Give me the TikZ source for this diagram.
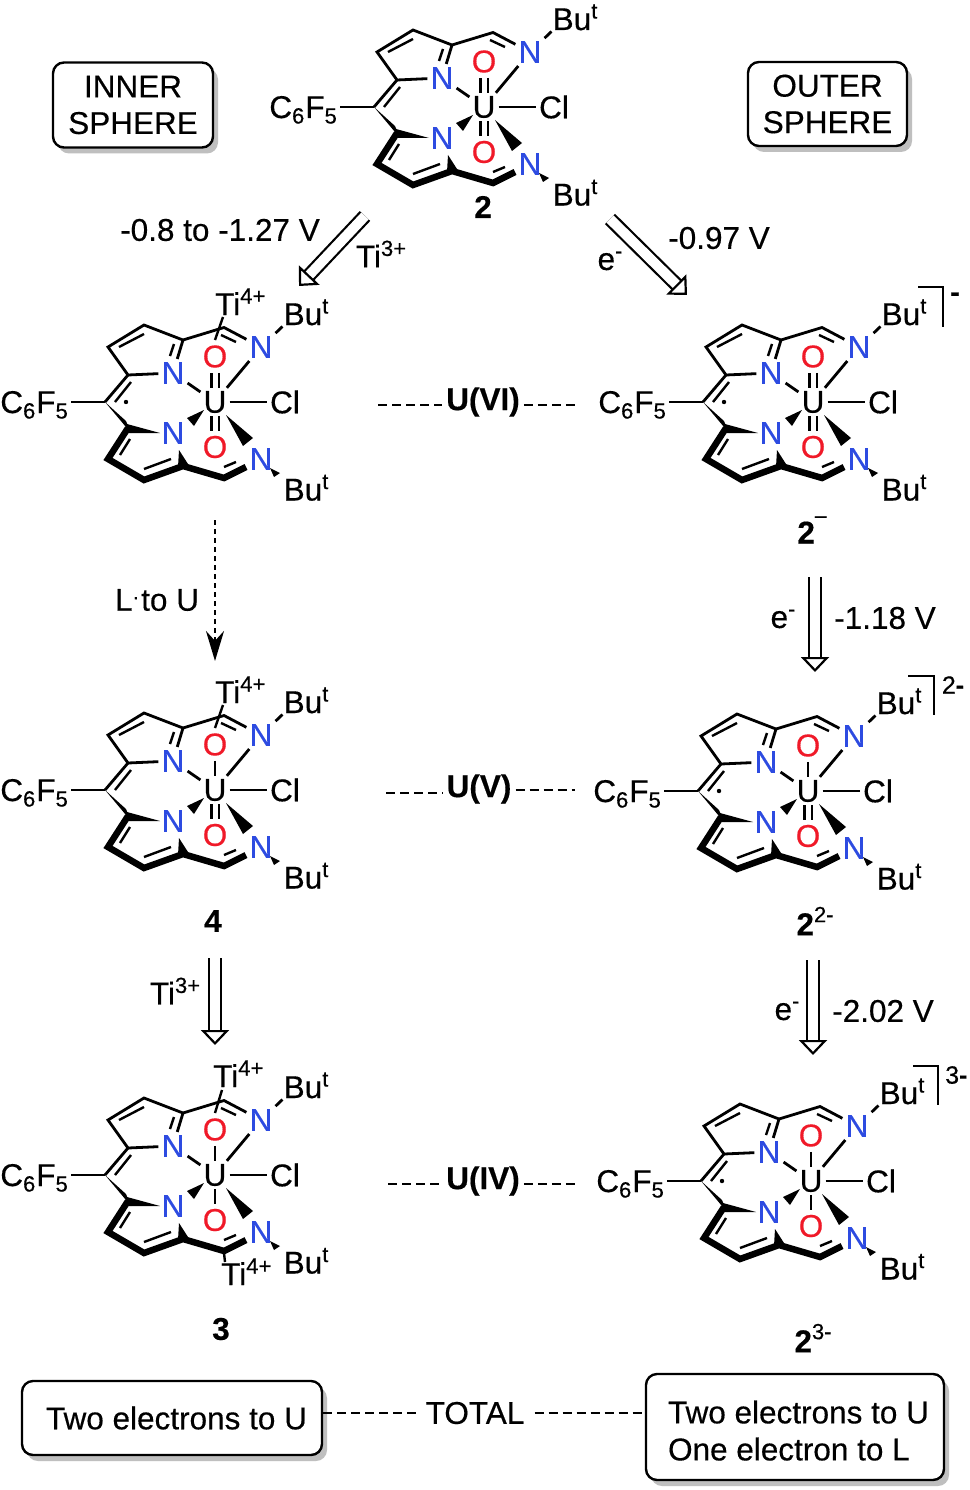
\documentclass[tikz,border=0pt]{standalone}
\usepackage{fontspec}
\setmainfont{Liberation Sans}[FakeBold=0.4]
\usetikzlibrary{arrows.meta,shadows,calc}
\definecolor{nblue}{RGB}{45,75,225}
\definecolor{ored}{RGB}{240,25,40}
\newcommand\sbs[1]{\raisebox{-5.5pt}{\fontsize{22}{22}\selectfont #1}}
\newcommand\sps[1]{\raisebox{11.5pt}{\fontsize{22}{22}\selectfont #1}}
\tikzset{
 txt/.style={inner sep=0pt,font=\fontsize{31.5}{36.5}\selectfont,align=center},
 btxt/.style={txt,font=\fontsize{31.5}{36.5}\selectfont\bfseries},
 atom/.style={inner sep=3pt,font=\fontsize{31.5}{36.5}\selectfont},
 nitro/.style={atom,text=nblue},
 oxy/.style={atom,text=ored,inner sep=5pt},
 bond/.style={line width=2.8pt,line join=miter,line cap=butt},
 thin bond/.style={line width=2.4pt},
 bold bond/.style={line width=6.5pt,line join=miter,line cap=butt},
 bondone/.style={bond},
 bondtwo/.style={line width=2.4pt,double,double distance=5pt},
 panel/.style={draw=black,fill=white,line width=2.4pt,rounded corners=11pt,inner sep=0pt,
   font=\fontsize{31.5}{36.5}\selectfont,align=center,
   drop shadow={shadow xshift=5pt,shadow yshift=-6pt,fill=black!25,opacity=1}},
 dashline/.style={line width=2.4pt,dash pattern=on 9pt off 5pt},
 openarrow/.style={line width=2.2pt,double,double distance=10pt,
   -{Triangle[fill=white,length=15pt,width=28pt,line width=2.2pt]}},
}
% #1 prefix, #2 #3 position of U, #4 #5 styles of the U=O bonds, #6 extras
\newcommand\molecule[6]{%
\begin{scope}[shift={(#2,#3)},name prefix=#1-]
 \coordinate (meso) at (-110,0);
 \coordinate (ca) at (-87,-27);
 \coordinate (cb) at (-107,-55);
 \coordinate (cc) at (-71,-77);
 \coordinate (cd) at (-32,-62);
 \coordinate (ce) at (9,-74.5);
 \coordinate (cf) at (-87,26);
 \coordinate (cg) at (-107,57);
 \coordinate (ch) at (-71,78);
 \coordinate (ci) at (-32,64);
 \coordinate (cj) at (9,76);
 \node[atom] (U) at (0,0) {U};
 \node[atom,inner sep=3pt] (Cl) at (70,0) {Cl};
 \node[nitro] (na) at (-42,-29) {N};
 \node[nitro] (nb) at (-42,31) {N};
 \node[nitro] (nc) at (46,-55) {N};
 \node[nitro] (nd) at (46,57) {N};
 \node[oxy] (oa) at (0,-45.5) {O};
 \node[oxy] (ob) at (0,45) {O};
 \node[txt,anchor=base east,inner sep=3pt] (ar) at (-144,11) {C\sbs{6}\kern1pt F\sbs{5}};
 \node[txt,anchor=base west,inner sep=1pt] (bua) at (67.5,-77) {Bu\sps{t}};
 \node[txt,anchor=base west,inner sep=1pt] (bub) at (67.5,98.5) {Bu\sps{t}};
 % thin skeleton
 \draw[bond] (meso) -- (ca) -- (cb) -- (cc) -- (cd) -- (ce) -- (nc);
 \draw[bond] (ca) -- (na);
 \draw[bond] (cd) -- (na);
 \draw[bond] (nc) -- (bua.south west);
 \draw[bond] (ar.east |- meso) -- (meso);
 \draw[bond] (na) -- (U);
 \draw[bond] (nc) -- (U);
 \draw[bond] (U) -- (Cl);
 \draw[#4] (oa) -- (U);
 \draw[#5] (ob) -- (U);
 % inner lines of the double bonds
 \draw[thin bond] (-100,0) -- (-84,-20);
 \draw[thin bond] (-96,-55) -- (-71,-68);
 \draw[thin bond] (-41,-58) -- (-45,-46);
 \draw[thin bond] (6,-67) -- (21,-60);
 \draw[thin bond] (-85,37) -- (-95,53);
 \draw[thin bond] (-71,67) -- (-44,57);
 \draw[thin bond] (9,65) -- (21,60);
 % bold front of the ligand
 \draw[bold bond] (cf) -- (cg) -- (ch) -- (ci) -- (cj) -- (31,65);
 \fill (meso) -- (-89,19) -- (-84,31) -- cycle;
 \fill (-88,22) -- (-88,31) -- (-55,31) -- cycle;
 \fill (-36,48) -- (-37,65) -- (-27,62) -- cycle;
 \fill (-11,8) -- (-28,16) -- (-21,24) -- cycle;
 \fill (11,13) -- (28,44) -- (38,36) -- cycle;
 \fill (55,66) -- (59,75) -- (65,71) -- cycle;
 #6
\end{scope}}
\newcommand\ligdot{\fill (-89,0) circle (2.2);}
\begin{document}
\begin{tikzpicture}[x=1pt,y=-1pt]
\useasboundingbox (0,0) rectangle (969,1490);
\fill[white] (0,0) rectangle (969,1490);

\node[panel,minimum width=160pt,minimum height=85pt] (inner) at (133,105) {INNER\\SPHERE};
\node[panel,minimum width=159pt,minimum height=84pt] (outer) at (827.5,104) {OUTER\\SPHERE};
\node[panel,minimum width=300pt,minimum height=74pt] (twol) at (172,1418) {\hspace*{9pt}Two electrons to U};
\node[panel,minimum width=298pt,minimum height=106pt,align=left] (twor) at (795,1427) {\rule{0pt}{30pt}\hspace*{7pt}Two electrons to U\\[.5pt]\hspace*{7pt}One electron to L};

\molecule{m}{484}{107}{bondtwo}{bondtwo}{}
\molecule{a}{215}{402}{bondtwo}{bondtwo}{\ligdot
  \node[txt,anchor=base west] (ti) at (0,-87) {Ti\sps{4+}};
  \coordinate (tt) at (8,-85); \coordinate (tb) at (0,-62);
  \draw[thin bond] (tt) -- (tb);}
\molecule{b}{813}{402}{bondtwo}{bondtwo}{\ligdot}
\molecule{c}{215}{790}{bondone}{bondtwo}{
  \node[txt,anchor=base west] (ti) at (0,-87) {Ti\sps{4+}};
  \coordinate (tt) at (8,-85); \coordinate (tb) at (0,-62);
  \draw[thin bond] (tt) -- (tb);}
\molecule{d}{808}{791}{bondone}{bondtwo}{\ligdot}
\molecule{e}{215}{1175}{bondone}{bondone}{
  \node[txt,anchor=base west] (ti) at (-2,-88) {Ti\sps{4+}};
  \coordinate (tt) at (7,-85); \coordinate (tb) at (0,-62);
  \draw[thin bond] (tt) -- (tb);
  \node[txt,anchor=base west] (tj) at (6,110) {Ti\sps{4+}};
  \coordinate (ut) at (9,78); \coordinate (ub) at (10,87);
  \draw[thin bond] (ut) -- (ub);}
\molecule{f}{811}{1181}{bondone}{bondone}{\ligdot}

% compound labels
\node[btxt] (l2) at (483,207) {2};
\node[txt] (lb) at (812,530) {\textbf{2}\raisebox{21pt}{\fontsize{21}{21}\selectfont –}};
\node[txt] (ld) at (815,921) {\textbf{2}\raisebox{13pt}{\fontsize{22}{22}\selectfont 2-}};
\node[txt] (lf) at (813,1338) {\textbf{2}\raisebox{13pt}{\fontsize{22}{22}\selectfont 3-}};
\node[btxt] (l4) at (213,921) {4};
\node[btxt] (l3) at (221,1329) {3};

% brackets and charges
\coordinate (bb1) at (918,287); \coordinate (bb2) at (943,287); \coordinate (bb3) at (943,327);
\draw[bond] (bb1) -- (bb2) -- (bb3);
\node[txt,font=\fontsize{28}{30}\selectfont\bfseries] (cb) at (955,297) {-};
\coordinate (db1) at (908,676); \coordinate (db2) at (934,676); \coordinate (db3) at (934,715);
\draw[bond] (db1) -- (db2) -- (db3);
\node[txt,font=\fontsize{25}{30}\selectfont] (cd) at (953,685) {2\textbf{-}};
\coordinate (fb1) at (913,1066); \coordinate (fb2) at (938,1066); \coordinate (fb3) at (938,1105);
\draw[bond] (fb1) -- (fb2) -- (fb3);
\node[txt,font=\fontsize{25}{30}\selectfont,anchor=west] (cf) at (945,1075) {3\textbf{-}};

% reaction labels
\node[txt] (pa) at (220,230) {-0.8 to -1.27 V};
\node[txt] (ta) at (381,254) {Ti\sps{3+}};
\node[txt] (pb) at (719,238) {-0.97 V};
\node[txt] (ea) at (610,261) {e\sps{-}};
\node[txt] (lu) at (157,600) {L\raisebox{7pt}{\fontsize{20}{20}\selectfont·}\kern2pt to U};
\node[txt] (eb) at (783,619) {e\sps{-}};
\node[txt] (pc) at (885,618) {-1.18 V};
\node[txt] (ec) at (787,1011) {e\sps{-}};
\node[txt] (pd) at (883,1011) {-2.02 V};
\node[txt] (tb) at (175,991) {Ti\sps{3+}};

% open reaction arrows
\coordinate (a1s) at (365,216); \coordinate (a1e) at (299,286);
\coordinate (a2s) at (610,219); \coordinate (a2e) at (687,295);
\coordinate (a3s) at (815,577); \coordinate (a3e) at (815,672);
\coordinate (a4s) at (813,960); \coordinate (a4e) at (813,1055);
\coordinate (a5s) at (215,958); \coordinate (a5e) at (215,1045);
\draw[openarrow] (a1s) -- (a1e);
\draw[openarrow] (a2s) -- (a2e);
\draw[openarrow] (a3s) -- (a3e);
\draw[openarrow] (a4s) -- (a4e);
\draw[openarrow] (a5s) -- (a5e);
\coordinate (a6s) at (215,520); \coordinate (a6e) at (215,661);
\draw[line width=2.2pt,dash pattern=on 4.5pt off 4.5pt,-{Stealth[length=30pt,width=18pt]}] (a6s) -- (a6e);

% oxidation state rows
\node[btxt,inner sep=4pt] (six) at (483,402) {U(VI)};
\node[btxt,inner sep=4pt] (five) at (479,789) {U(V)};
\node[btxt,inner sep=4pt] (four) at (483,1181) {U(IV)};
\coordinate (s1) at (378,405); \coordinate (s2) at (575,405);
\coordinate (v1) at (386,793); \coordinate (v2) at (575,790);
\coordinate (f1) at (388,1184); \coordinate (f2) at (578,1184);
\draw[dashline] (s1) -- (six.west |- s1);
\draw[dashline] (six.east |- s2) -- (s2);
\draw[dashline] (v1) -- (five.west |- v1);
\draw[dashline] (five.east |- v2) -- (v2);
\draw[dashline] (f1) -- (four.west |- f1);
\draw[dashline] (four.east |- f2) -- (f2);

\node[txt,inner sep=10pt] (tot) at (475,1413) {TOTAL};
\coordinate (tl) at (tot.west);
\draw[dashline] (twol.east |- tl) -- (tl);
\draw[dashline] (tot.east) -- (twor.west |- tot.east);
\end{tikzpicture}
\end{document}
